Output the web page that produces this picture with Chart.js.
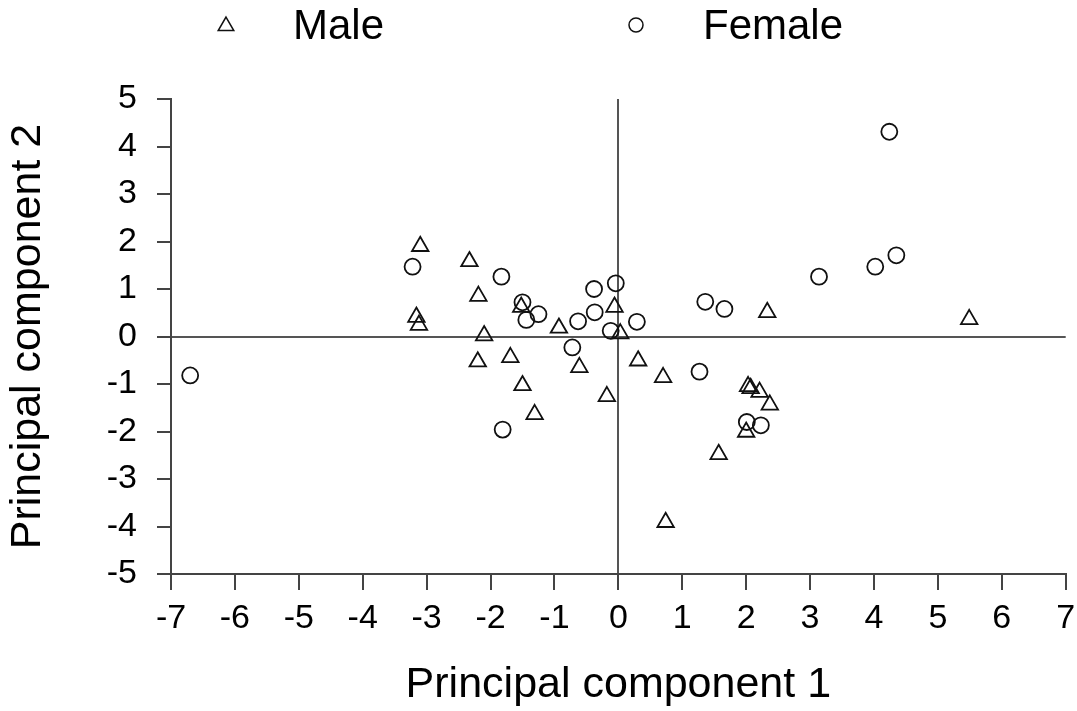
<!DOCTYPE html>
<html>
<head>
<meta charset="utf-8">
<script src="https://cdn.jsdelivr.net/npm/chart.js@4/dist/chart.umd.min.js"></script>
<style>
  html, body { margin: 0; padding: 0; background: #fff; }
  #wrap { width: 1077px; height: 711px; }
</style>
</head>
<body>
<div id="wrap"><canvas id="c" width="1077" height="711"></canvas></div>
<script>
// ---- Data ----
const seriesNames = ['Male', 'Female'];
const maleX = [-3.10, -2.33, -2.19, -3.16, -3.12, -2.10, -1.52, -0.93, -0.06, 0.03,
               -2.20, -1.69, -1.50, -0.61, 0.31, 0.70, -0.18, -1.31, 2.33, 2.03,
               2.07, 2.21, 2.37, 2.00, 1.57, 0.74, 5.49];
const maleY = [1.90, 1.58, 0.85, 0.41, 0.24, 0.02, 0.62, 0.18, 0.62, 0.06,
               -0.53, -0.44, -1.03, -0.65, -0.51, -0.86, -1.26, -1.64, 0.51, -1.05,
               -1.09, -1.17, -1.44, -2.01, -2.48, -3.91, 0.36];
const femaleX = [-3.22, -1.83, -1.50, -1.44, -1.25, -0.38, -0.04, -0.37, -0.63, 0.29,
                 -0.12, -0.72, -1.81, 1.36, 1.66, 1.27, 2.01, 2.23, 3.14, 4.24,
                 4.35, 4.02, -6.70];
const femaleY = [1.47, 1.26, 0.72, 0.35, 0.47, 1.00, 1.12, 0.51, 0.32, 0.31,
                 0.12, -0.23, -1.96, 0.73, 0.58, -0.74, -1.80, -1.87, 1.26, 4.31,
                 1.71, 1.47, -0.82];
const xRange = [-7, 7];
const yRange = [-5, 5];
const xTitle = 'Principal component 1';
const yTitle = 'Principal component 2';

const FONT = "'Liberation Sans', Arial, Helvetica, sans-serif";
const pts = (xs, ys) => xs.map((x, i) => ({ x: x, y: ys[i] }));

const legendPlugin = {
  id: 'topLegend',
  afterDraw(chart) {
    const ctx = chart.ctx;
    const items = [
      { ds: 0, mx: 226, my: 26, tx: 293 },
      { ds: 1, mx: 636, my: 25, tx: 703 }
    ];
    ctx.save();
    items.forEach(it => {
      const d = chart.data.datasets[it.ds];
      ctx.strokeStyle = d.borderColor;
      ctx.fillStyle = 'rgba(0,0,0,0)';
      ctx.lineWidth = 1.5;
      Chart.helpers.drawPoint(ctx, {
        pointStyle: d.pointStyle,
        radius: d.pointStyle === 'triangle' ? 9 : 7,
        borderWidth: 1.5,
        rotation: 0
      }, it.mx, it.my);
      ctx.fillStyle = '#000';
      ctx.font = '42px ' + FONT;
      ctx.textBaseline = 'middle';
      ctx.textAlign = 'left';
      ctx.fillText(d.label, it.tx, 27);
    });
    ctx.restore();
  }
};

const axisColor = '#444';
const zeroColor = (c) => (c.tick && c.tick.value === 0) ? '#555' : 'rgba(0,0,0,0)';

new Chart(document.getElementById('c'), {
  type: 'scatter',
  data: {
    datasets: [
      {
        label: seriesNames[0],
        data: pts(maleX, maleY),
        pointStyle: 'triangle',
        pointRadius: 9.5,
        pointHoverRadius: 9.5,
        borderWidth: 1.8,
        borderColor: '#111',
        backgroundColor: 'rgba(0,0,0,0)'
      },
      {
        label: seriesNames[1],
        data: pts(femaleX, femaleY),
        pointStyle: 'circle',
        pointRadius: 8,
        pointHoverRadius: 8,
        borderWidth: 1.8,
        borderColor: '#111',
        backgroundColor: 'rgba(0,0,0,0)'
      }
    ]
  },
  options: {
    responsive: false,
    animation: false,
    events: [],
    layout: { padding: { top: 99, right: 11, left: 0, bottom: 0 } },
    plugins: {
      legend: { display: false },
      tooltip: { enabled: false }
    },
    scales: {
      x: {
        type: 'linear',
        min: xRange[0], max: xRange[1],
        afterFit(s) { s.height = 137; s.paddingRight = 0; s.paddingLeft = 0; },
        ticks: {
          stepSize: 1,
          color: '#000',
          font: { family: FONT, size: 34 },
          padding: 8,
          maxRotation: 0,
          autoSkip: false
        },
        grid: {
          color: zeroColor,
          lineWidth: 2,
          tickColor: axisColor,
          tickLength: 16,
          tickWidth: 2
        },
        border: { display: true, color: axisColor, width: 2 },
        title: {
          display: true,
          text: xTitle,
          color: '#000',
          font: { family: FONT, size: 43 },
          padding: { top: 0, bottom: 0 }
        }
      },
      y: {
        type: 'linear',
        min: yRange[0], max: yRange[1],
        afterFit(s) { s.width = 171; s.paddingTop = 0; s.paddingBottom = 0; },
        ticks: {
          stepSize: 1,
          color: '#000',
          font: { family: FONT, size: 34 },
          padding: 20,
          autoSkip: false
        },
        grid: {
          color: zeroColor,
          lineWidth: 2,
          tickColor: axisColor,
          tickLength: 14,
          tickWidth: 2
        },
        border: { display: true, color: axisColor, width: 2 },
        title: {
          display: true,
          text: yTitle,
          color: '#000',
          font: { family: FONT, size: 43 },
          padding: { top: 2, bottom: 0 }
        }
      }
    }
  },
  plugins: [legendPlugin]
});
</script>
</body>
</html>
